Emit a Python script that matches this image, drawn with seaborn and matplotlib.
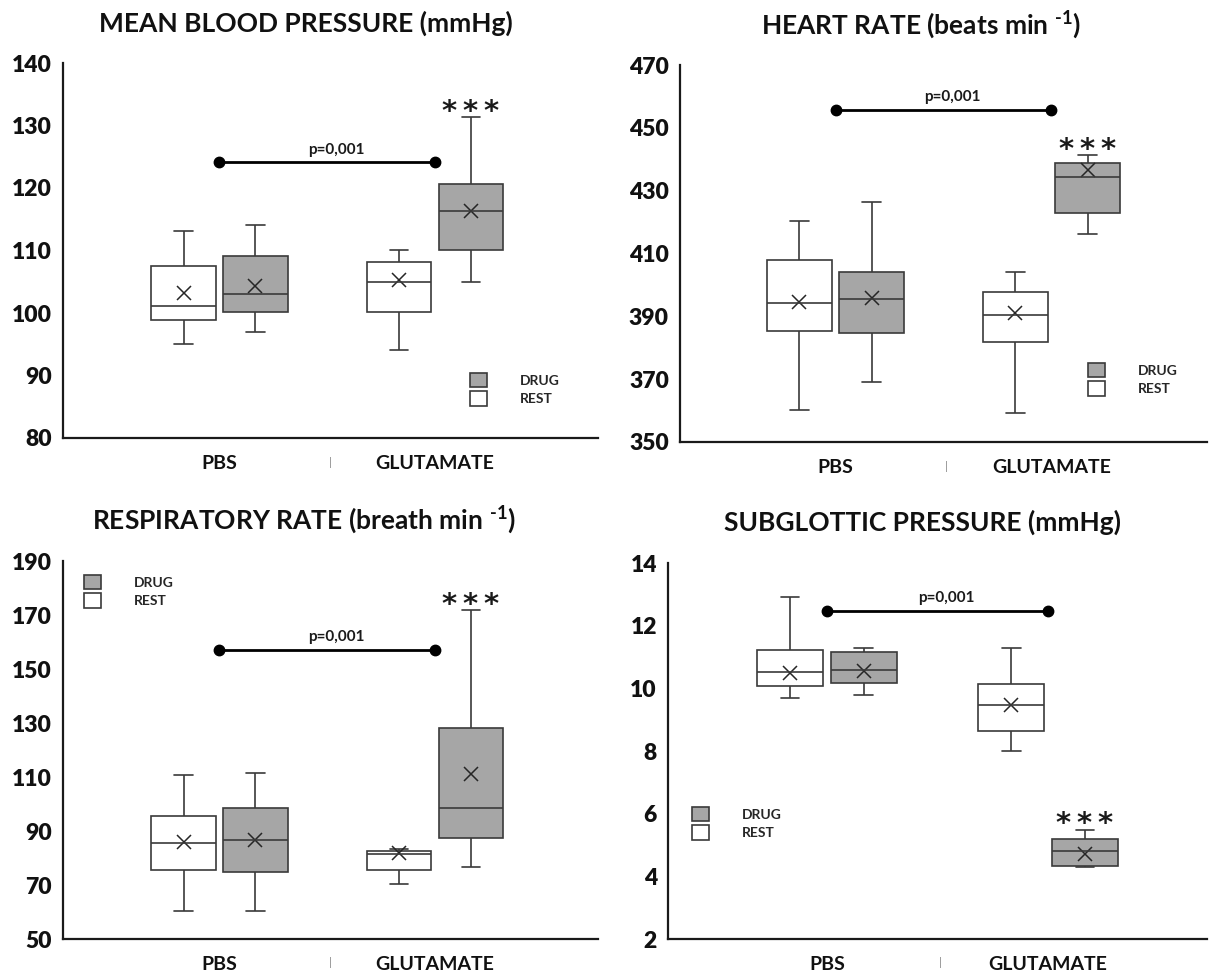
import numpy as np
import pandas as pd
import matplotlib
matplotlib.use("Agg")
import matplotlib.pyplot as plt
from matplotlib.patches import Patch
import seaborn as sns

# ---------------------------------------------------------------- data
groups = ["PBS", "GLUTAMATE"]
conditions = ["REST", "DRUG"]
legend_order = ["DRUG", "REST"]

# five-number summaries [min, Q1, median, Q3, max]
# box order: PBS-REST, PBS-DRUG, GLUTAMATE-REST, GLUTAMATE-DRUG
mbp_box = [[95.0, 98.9, 101.1, 107.6, 113.2],
           [97.0, 100.1, 103.0, 109.1, 114.1],
           [94.1, 100.1, 105.0, 108.1, 110.1],
           [105.0, 110.1, 116.3, 120.7, 131.3]]
mbp_mean = [103.2, 104.4, 105.3, 116.4]
mbp_p = 124.1

hr_box = [[360.1, 385.2, 394.2, 407.9, 420.5],
          [369.0, 384.7, 395.4, 404.2, 426.4],
          [359.2, 381.7, 390.4, 397.9, 404.2],
          [416.3, 423.0, 434.4, 438.9, 441.4]]
hr_mean = [394.6, 395.8, 391.0, 436.7]
hr_p = 455.8

rr_box = [[60.2, 75.7, 85.4, 95.4, 110.7],
          [60.2, 75.0, 86.6, 98.5, 111.5],
          [70.4, 75.7, 81.5, 82.7, 83.5],
          [76.8, 87.4, 98.5, 128.2, 171.7]]
rr_mean = [85.8, 86.6, 81.8, 111.2]
rr_p = 157.2

sp_box = [[9.69, 10.09, 10.52, 11.21, 12.90],
          [9.78, 10.18, 10.59, 11.17, 11.29],
          [8.01, 8.64, 9.47, 10.15, 11.29],
          [4.30, 4.32, 4.80, 5.19, 5.49]]
sp_mean = [10.50, 10.56, 9.47, 4.72]
sp_p = 12.47

titles = ["MEAN BLOOD PRESSURE (mmHg)",
          r"HEART RATE (beats min $^{\text{-1}}$)",
          r"RESPIRATORY RATE (breath min $^{\text{-1}}$)",
          "SUBGLOTTIC PRESSURE (mmHg)"]
y_ticks = [np.arange(80, 141, 10),
           np.arange(350, 471, 20),
           np.arange(50, 191, 20),
           np.arange(2, 15, 2)]
p_label = "p=0,001"
star_label = "*\u2009*\u2009*"

# ---------------------------------------------------------------- style
sns.set_theme(style="white")
plt.rcParams["font.family"] = ["Lato", "DejaVu Sans"]
plt.rcParams["font.weight"] = "bold"
plt.rcParams["mathtext.fontset"] = "custom"
plt.rcParams["mathtext.rm"] = "Lato:bold"
plt.rcParams["mathtext.it"] = "Lato:bold"
plt.rcParams["mathtext.bf"] = "Lato:bold"

GRAY = "#a6a6a6"
EDGE = "#3a3a3a"
box_palette = {"REST": "white", "DRUG": GRAY}
mean_palette = {"REST": "#262626", "DRUG": "#262626"}

W, H = 1209, 973
fig = plt.figure(figsize=(W / 100, H / 100), dpi=100)
fig.patch.set_facecolor("white")


def px_rect(left, top, right, bottom):
    return [left / W, 1 - bottom / H, (right - left) / W, (bottom - top) / H]


# axes frame (pixels), x limits, title centre, legend anchor
panels = [
    dict(rect=(63, 63, 598, 438), xlim=(-0.726, 1.756), title=(306, 23), leg=(470, 373)),
    dict(rect=(680, 65, 1207, 442), xlim=(-0.720, 1.720), title=(921, 25), leg=(1088, 363)),
    dict(rect=(63, 561, 598, 939), xlim=(-0.726, 1.756), title=(304, 520), leg=(84, 575)),
    dict(rect=(668, 563, 1207, 939), xlim=(-0.719, 1.719), title=(922, 522), leg=(692, 807)),
]
boxes = [mbp_box, hr_box, rr_box, sp_box]
means = [mbp_mean, hr_mean, rr_mean, sp_mean]
p_levels = [mbp_p, hr_p, rr_p, sp_p]

pairs = [(g, c) for g in groups for c in conditions]
DODGE = 0.667

for spec, summ, mvals, plev, title, ticks in zip(panels, boxes, means, p_levels, titles, y_ticks):
    ax = fig.add_axes(px_rect(*spec["rect"]))

    box_df = pd.DataFrame(
        [(g, c, v) for (g, c), vals in zip(pairs, summ) for v in vals],
        columns=["group", "condition", "value"])
    mean_df = pd.DataFrame(
        [(g, c, m) for (g, c), m in zip(pairs, mvals)],
        columns=["group", "condition", "value"])

    sns.boxplot(data=box_df, x="group", y="value", hue="condition",
                order=groups, hue_order=conditions, palette=box_palette,
                linecolor=EDGE, linewidth=1.2, width=DODGE, gap=0.1,
                whis=(0, 100), fliersize=0, capwidths=0.085,
                legend=False, ax=ax)
    sns.pointplot(data=mean_df, x="group", y="value", hue="condition",
                  order=groups, hue_order=conditions, palette=mean_palette,
                  markers="x", linestyles="none", dodge=DODGE / 2,
                  errorbar=None, markersize=9.5, markeredgewidth=1.1,
                  legend=False, ax=ax)

    # significance bar between the two groups
    ax.plot([0, 1], [plev, plev], color="black", lw=2.0, marker="o",
            markersize=7.5, solid_capstyle="round", zorder=5)
    ax.annotate(p_label, xy=(0.54, plev), xytext=(0, 4),
                textcoords="offset points", ha="center", va="bottom",
                fontsize=11, color="#1a1a1a")

    # stars above the glutamate drug box
    ax.annotate(star_label, xy=(1 + DODGE / 4, summ[3][4]), xytext=(0, -2),
                textcoords="offset points", ha="center", va="baseline",
                fontsize=21, family="DejaVu Sans", fontweight="bold",
                color="#1a1a1a")

    # small divider between the category labels
    ax.annotate("|", xy=(0.515, 0), xycoords=("data", "axes fraction"),
                xytext=(0, -24), textcoords="offset pixels", ha="center",
                va="center", fontsize=8, color="#808080", fontweight="normal")

    ax.set_xlim(*spec["xlim"])
    ax.set_ylim(ticks[0], ticks[-1])
    ax.set_yticks(ticks)
    ax.set_xlabel("")
    ax.set_ylabel("")
    ax.tick_params(axis="y", length=0, pad=8, labelsize=16.5, labelcolor="#111111")
    ax.tick_params(axis="x", length=0, pad=12.5, labelsize=14, labelcolor="#111111")
    for lbl in ax.get_yticklabels():
        lbl.set_fontweight("heavy")
    for lbl in ax.get_xticklabels():
        lbl.set_fontweight("bold")
    for side in ("top", "right"):
        ax.spines[side].set_visible(False)
    for side in ("left", "bottom"):
        ax.spines[side].set_color("#1a1a1a")
        ax.spines[side].set_linewidth(1.6)
    ax.set_facecolor("white")

    handles = [Patch(facecolor=box_palette[c], edgecolor=EDGE, linewidth=1.2)
               for c in legend_order]
    lx, ly = spec["leg"]
    ax.legend(handles, legend_order, loc="upper left",
              bbox_to_anchor=(lx / W, 1 - ly / H), bbox_transform=fig.transFigure,
              frameon=False, borderpad=0, borderaxespad=0, handlelength=1.2,
              handleheight=1.2, handletextpad=2.4, labelspacing=0.3,
              prop={"size": 10, "weight": "bold"})

    tx, ty = spec["title"]
    fig.text(tx / W, 1 - ty / H, title, ha="center", va="center",
             fontsize=19, fontweight="bold", color="#111111")

fig.savefig("out.png", dpi=100, facecolor="white")
